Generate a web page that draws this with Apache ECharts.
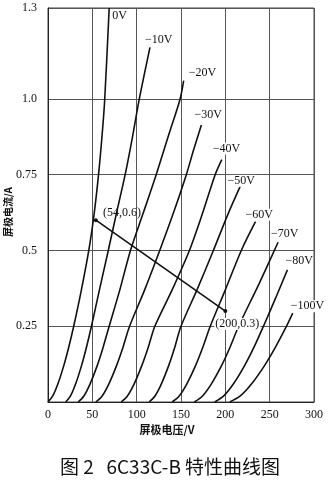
<!DOCTYPE html>
<html><head><meta charset="utf-8">
<script src="https://cdn.jsdelivr.net/npm/echarts@6/dist/echarts.min.js"></script>
<style>html,body{margin:0;padding:0;background:#fff}#c{width:331px;height:486px}</style>
</head><body><div id="c"></div>
<script>
// ---- data ----
const xTicks = [0, 50, 100, 150, 200, 250, 300];
const yTicks = [0.25, 0.5, 0.75, 1.0, 1.3];
const gridVoltNames = ['0V', '−10V', '−20V', '−30V', '−40V', '−50V', '−60V', '−70V', '−80V', '−100V'];
const curve0   = [[0,0],[5.4,0.02],[11.2,0.06],[17.8,0.12],[23.3,0.18],[29,0.25],[37,0.36],[46,0.5],[52,0.62],[57,0.75],[61,0.88],[64,1.0],[69,1.3]];
const curve10  = [[20,0],[25.4,0.02],[31.2,0.06],[37.8,0.12],[43.3,0.18],[49,0.25],[58,0.37],[68,0.5],[77,0.62],[87,0.75],[95,0.87],[103,1.0],[115,1.17]];
const curve20  = [[34,0],[40.5,0.02],[47.5,0.06],[55.5,0.12],[62.1,0.18],[69,0.25],[81,0.37],[93,0.5],[107,0.62],[122,0.75],[136,0.88],[149,1.0],[153,1.06]];
const curve30  = [[54,0],[61.1,0.02],[68.7,0.06],[77.3,0.12],[84.5,0.18],[92,0.25],[109,0.37],[126,0.5],[141,0.62],[156,0.75],[164,0.83],[173,0.914]];
const curve40  = [[82.5,0],[89.6,0.02],[97.2,0.06],[105.8,0.12],[113,0.18],[120.5,0.25],[140,0.37],[159.5,0.5],[174,0.62],[188.5,0.75],[196,0.8]];
const curve50  = [[114,0],[120.7,0.02],[127.9,0.06],[136.1,0.12],[142.9,0.18],[150,0.25],[168,0.37],[186.5,0.5],[203,0.62],[217,0.713]];
const curve60  = [[140,0],[148,0.02],[156.6,0.06],[166.4,0.12],[174.5,0.18],[183,0.25],[200,0.37],[218,0.5],[234,0.595]];
const curve70  = [[165,0],[174.3,0.02],[184.3,0.06],[195.7,0.12],[205.2,0.18],[215,0.25],[238,0.39],[259.5,0.527]];
const curve80  = [[188,0],[198.2,0.02],[209.2,0.06],[221.7,0.12],[232.2,0.18],[243,0.25],[257,0.345],[270,0.436]];
const curve100 = [[205,0],[216.9,0.02],[229.7,0.06],[244.2,0.12],[256.4,0.18],[269,0.25],[276,0.293]];
const curves = [curve0, curve10, curve20, curve30, curve40, curve50, curve60, curve70, curve80, curve100];
const loadLine = [[54, 0.6], [200, 0.3]];
const loadLabels = ['(54,0.6)', '(200,0.3)'];
const xName = '屏极电压/V';
const yName = '屏极电流/A';
const caption = '图 2   6C33C-B 特性曲线图';

// ---- styles / layout ----
const serif = '"Liberation Serif","DejaVu Serif",serif';
const curveLabelOffsets = [[3,8],[-5,-8],[5,-8],[-7,-10],[-9,-11],[-13,-5],[-10,-7],[-7,-8],[-2,-9],[-2,-7]];

const chart = echarts.init(document.getElementById('c'), null, {renderer: 'canvas'});

const series = curves.map((d, i) => ({
  type: 'line', name: gridVoltNames[i], data: d,
  smooth: 0.3, showSymbol: false, symbol: 'none',
  lineStyle: {color: '#111', width: 1.6}, z: 3, silent: true
}));
series.push({
  type: 'line', data: loadLine.map((p, i) => ({
    value: p,
    label: i === 0
      ? {show: true, formatter: loadLabels[0], position: 'right', distance: 5, offset: [0, -7]}
      : {show: true, formatter: loadLabels[1], position: 'bottom', distance: 5, offset: [12, 0],
         backgroundColor: '#fff', padding: [0, 1]}
  })),
  symbol: 'circle', symbolSize: 4, showSymbol: true,
  itemStyle: {color: '#111'}, lineStyle: {color: '#111', width: 1.6},
  label: {color: '#111', fontFamily: serif, fontSize: 12},
  z: 5, silent: true
});

chart.setOption({
  animation: false,
  backgroundColor: '#fff',
  grid: {left: 48, right: 17, top: 8, bottom: 84, show: true, borderColor: '#444', borderWidth: 1},
  xAxis: {
    type: 'value', min: xTicks[0], max: xTicks[xTicks.length - 1], interval: 50,
    axisLine: {show: true, onZero: false, lineStyle: {color: '#222', width: 1}},
    axisTick: {show: false},
    axisLabel: {color: '#111', fontFamily: serif, fontSize: 12, margin: 7},
    splitLine: {show: true, lineStyle: {color: '#555', width: 1}}
  },
  yAxis: {
    type: 'value', min: 0, max: yTicks[yTicks.length - 1],
    axisLine: {show: true, onZero: false, lineStyle: {color: '#222', width: 1}},
    axisTick: {show: false, customValues: yTicks},
    axisLabel: {color: '#111', fontFamily: serif, fontSize: 12, margin: 11, customValues: yTicks,
      formatter: v => (Math.abs(v - 1) < 1e-9 ? '1.0' : String(v))},
    splitLine: {show: true, lineStyle: {color: '#555', width: 1}}
  },
  series: series
});

// curve names placed relative to each curve's end point
const graphics = curves.map((d, i) => {
  const p = chart.convertToPixel({gridIndex: 0}, d[d.length - 1]);
  return {
    type: 'text', x: p[0] + curveLabelOffsets[i][0], y: p[1] + curveLabelOffsets[i][1], z: 10,
    style: {text: gridVoltNames[i], fill: '#111', font: '12px ' + serif, textAlign: 'left', textVerticalAlign: 'middle',
      backgroundColor: '#fff'}
  };
});
graphics.push({
  type: 'text', x: 167, y: 430, z: 10,
  style: {text: xName, fill: '#111', font: 'bold 11px "Noto Sans CJK SC"', textAlign: 'center', textVerticalAlign: 'middle'}
});
graphics.push({
  type: 'text', x: 8, y: 212, rotation: Math.PI / 2, z: 10,
  style: {text: yName, fill: '#111', font: 'bold 10px "Noto Sans CJK SC"', textAlign: 'center', textVerticalAlign: 'middle'}
});
graphics.push({
  type: 'text', x: 170, y: 467, z: 10,
  style: {text: caption, fill: '#111', font: '19px "Noto Sans CJK SC"', textAlign: 'center', textVerticalAlign: 'middle'}
});
chart.setOption({graphic: graphics});
</script>
</body></html>
